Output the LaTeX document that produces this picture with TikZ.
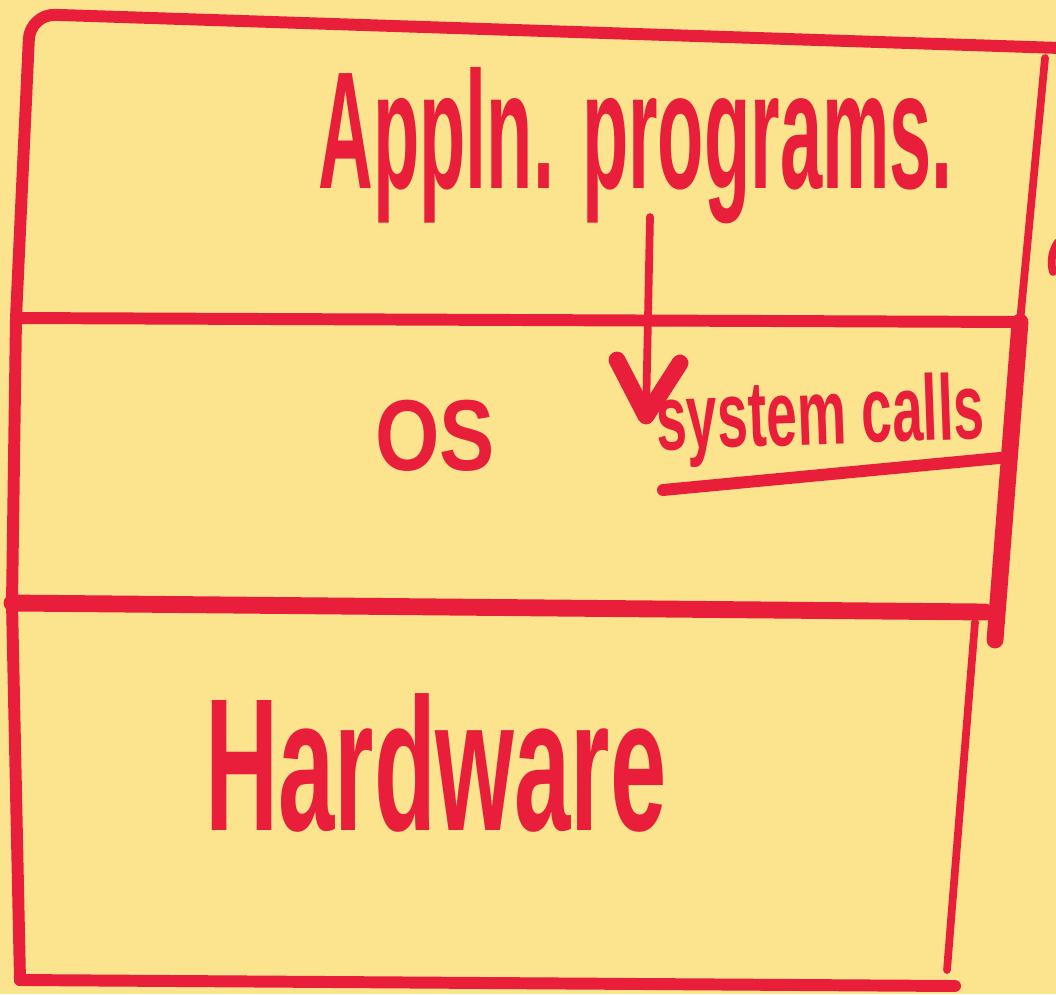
\documentclass[tikz,border=0pt]{standalone}
\usepackage{fontspec}
\setmainfont{Liberation Sans}
\usepackage{graphicx}
\definecolor{paper}{RGB}{252,228,142}
\definecolor{ink}{RGB}{232,30,58}
\begin{document}
\begin{tikzpicture}[x=0.025cm,y=-0.025cm,
  pen/.style={draw=ink,line cap=round,line join=round},
  thin/.style={pen,line width=5.5pt},
  mid/.style={pen,line width=8.5pt},
  heavy/.style={pen,line width=12pt},
  txt/.style={text=ink,inner sep=0pt,anchor=base west,font=\bfseries}]
\fill[paper] (0,0) rectangle (1056,994);
\useasboundingbox (0,0) rectangle (1056,994);
% coordinates
\coordinate (tr) at (1060,48);
\coordinate (tl) at (30,14);
\coordinate (l1) at (16,318);
\coordinate (l2) at (12,603);
\coordinate (l3) at (20,980);
\coordinate (r0) at (1045,58);
\coordinate (r1) at (1020,322);
\coordinate (r2) at (995,640);
\coordinate (b2) at (985,612);
\coordinate (h1) at (975,622);
\coordinate (h2) at (947,970);
\coordinate (b3) at (955,986);
% application box
\draw[mid,rounded corners=18] (tr) -- (tl) -- (l1);
\draw[thin] (r0) -- (r1);
\draw[mid] (l1) -- (r1);
% OS box
\draw[mid] (l1) -- (l2);
\draw[heavy] (r1) -- (r2);
\draw[heavy] (l2) -- (b2);
% hardware box
\draw[mid] (l2) -- (l3);
\draw[thin] (h1) -- (h2);
\draw[mid] (l3) -- (b3);
% fragment at right edge
\draw[thin] (1058,242) .. controls (1052,250) and (1050,262) .. (1053,272);
% texts
\node[txt] (appl) at (318,188) {\fontsize{110}{110}\selectfont\scalebox{0.49}[1.08]{Appln. programs.}};
\node[txt] (os) at (375,470) {\fontsize{64}{64}\selectfont\scalebox{0.92}[1.12]{OS}};
\node[txt,rotate=2] (sys) at (657,450) {\fontsize{59}{59}\selectfont\scalebox{0.665}[1.12]{system calls}};
\node[txt] (hw) at (205,830) {\fontsize{120}{120}\selectfont\scalebox{0.60}[1.12]{Hardware}};
% arrow
\coordinate (a0) at (650,217);
\coordinate (a1) at (646,416);
\coordinate (al) at (617,360);
\coordinate (ar) at (680,363);
\draw[thin] (a0) -- (a1);
\draw[heavy] (al) -- (a1) -- (ar);
% underline
\coordinate (u0) at (663,490);
\coordinate (u1) at (1010,457);
\draw[mid] (u0) -- (u1);
\end{tikzpicture}
\end{document}
